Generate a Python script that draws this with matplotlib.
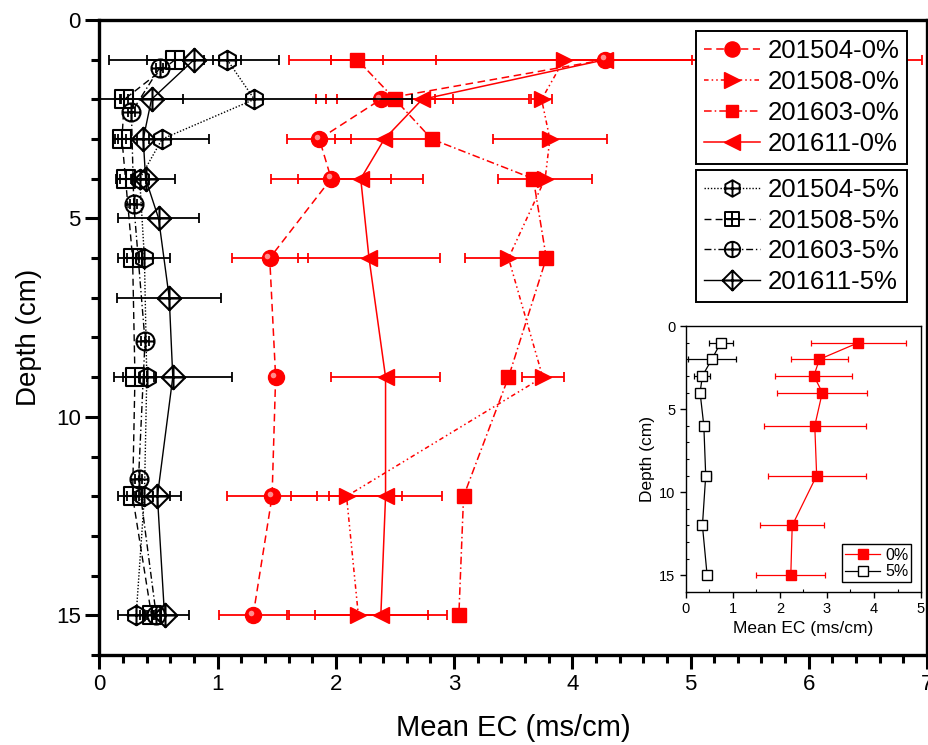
import matplotlib
matplotlib.use('Agg')
import matplotlib.pyplot as plt
from matplotlib.lines import Line2D
from matplotlib.path import Path
from matplotlib.ticker import MultipleLocator
from matplotlib.transforms import offset_copy
import numpy as np

plt.rcParams['font.family'] = ['Liberation Sans', 'DejaVu Sans']

# depths (cm) used by most series
depth = [1, 2, 3, 4, 6, 9, 12, 15]

# 0% treatment, mean EC and error (ms/cm)
ec_201504_0 = [4.28, 2.38, 1.86, 1.96, 1.44, 1.49, 1.46, 1.30]
err_201504_0 = [2.68, 0.46, 0.27, 0.51, 0.32, 0.03, 0.38, 0.29]
ec_201508_0 = [3.93, 3.74, 3.81, 3.77, 3.46, 3.75, 2.09, 2.19]
err_201508_0 = [1.08, 0.09, 0.48, 0.40, 0.37, 0.18, 0.47, 0.59]
ec_201603_0 = [2.18, 2.50, 2.81, 3.67, 3.78, 3.46, 3.08, 3.04]
err_201603_0 = [0.22, 0.49, 0.05, 0.05, 0.05, 0.05, 0.03, 0.03]
ec_201611_0 = [4.28, 2.73, 2.41, 2.21, 2.28, 2.42, 2.42, 2.38]
err_201611_0 = [2.32, 0.90, 0.42, 0.53, 0.60, 0.46, 0.48, 0.56]

# 5% treatment
ec_201504_5 = [1.08, 1.31, 0.53, 0.34, 0.38, 0.40, 0.38, 0.31]
err_201504_5 = [0.12, 1.33, 0.40, 0.05, 0.22, 0.06, 0.22, 0.15]
ec_201508_5 = [0.64, 0.21, 0.19, 0.22, 0.28, 0.30, 0.28, 0.44]
err_201508_5 = [0.24, 0.03, 0.03, 0.05, 0.05, 0.10, 0.05, 0.04]
depth_201603_5 = [1.2, 2.33, 4.64, 8.09, 11.57, 15]
ec_201603_5 = [0.51, 0.27, 0.29, 0.385, 0.33, 0.48]
err_201603_5 = [0.03, 0.03, 0.03, 0.03, 0.03, 0.03]
depth_201611_5 = [1, 2, 3, 4, 5, 7, 9, 12, 15]
ec_201611_5 = [0.80, 0.44, 0.37, 0.39, 0.50, 0.59, 0.62, 0.49, 0.55]
err_201611_5 = [0.72, 0.27, 0.05, 0.25, 0.34, 0.44, 0.50, 0.20, 0.21]

# inset: averages
ins_depth = [1, 2, 3, 4, 6, 9, 12, 15]
ins_0 = [3.67, 2.84, 2.72, 2.90, 2.74, 2.78, 2.26, 2.23]
ins_0_err = [1.02, 0.61, 0.82, 0.96, 1.08, 1.04, 0.68, 0.73]
ins_5 = [0.74, 0.55, 0.35, 0.30, 0.38, 0.42, 0.35, 0.45]
ins_5_err = [0.25, 0.51, 0.17, 0.03, 0.07, 0.11, 0.05, 0.07]


def crossed(outline):
    cross = Path([(-1, 0), (1, 0), (0, -1), (0, 1)],
                 [Path.MOVETO, Path.LINETO, Path.MOVETO, Path.LINETO])
    return Path.make_compound_path(outline, cross)


sq = Path([(-1, -1), (1, -1), (1, 1), (-1, 1), (-1, -1)],
          [Path.MOVETO, Path.LINETO, Path.LINETO, Path.LINETO, Path.CLOSEPOLY])
dia = Path([(0, 1), (1, 0), (0, -1), (-1, 0), (0, 1)],
           [Path.MOVETO, Path.LINETO, Path.LINETO, Path.LINETO, Path.CLOSEPOLY])
ang = np.deg2rad(np.arange(6) * 60 + 90)
hexv = list(zip(np.cos(ang), np.sin(ang))) + [(0, 1)]
hexa = Path(hexv, [Path.MOVETO] + [Path.LINETO] * 5 + [Path.CLOSEPOLY])

m_hex = crossed(hexa)
m_sq = crossed(sq)
m_circ = crossed(Path.unit_circle())
m_dia = crossed(dia)

ls_dash = (0, (5, 3))
ls_dashdotdot = (0, (3, 2, 1, 2, 1, 2))
ls_dashdot = (0, (5, 2, 1, 2))
ls_dot = (0, (1, 1.3))

red = [
    (ec_201504_0, depth, err_201504_0, 'o', 11.5, ls_dash, '201504-0%'),
    (ec_201508_0, depth, err_201508_0, '>', 12, ls_dashdotdot, '201508-0%'),
    (ec_201603_0, depth, err_201603_0, 's', 9.5, ls_dashdot, '201603-0%'),
    (ec_201611_0, depth, err_201611_0, '<', 12, '-', '201611-0%'),
]
black = [
    (ec_201504_5, depth, err_201504_5, m_hex, 14, ls_dot, '201504-5%'),
    (ec_201508_5, depth, err_201508_5, m_sq, 12.5, ls_dash, '201508-5%'),
    (ec_201603_5, depth_201603_5, err_201603_5, m_circ, 13, ls_dashdot, '201603-5%'),
    (ec_201611_5, depth_201611_5, err_201611_5, m_dia, 17, '-', '201611-5%'),
]

fig = plt.figure(figsize=(9.29, 7.45), dpi=100)
ax = fig.add_axes([0.1071, 0.1208, 0.8907, 0.8524])

h0 = []
for x, y, e, mk, ms, ls, lab in red:
    ax.errorbar(x, y, xerr=e, fmt='none', ecolor='red', elinewidth=1.3,
                capsize=3.4, capthick=1.3)
    ax.plot(x, y, color='red', ls=ls, lw=1.1, marker=mk, ms=ms,
            mfc='red', mec='red')
    h0.append(Line2D([0], [0], color='red', ls=ls, lw=1.1, marker=mk,
                     ms=ms * 0.95, mfc='red', mec='red'))

# little highlight to mimic the shaded spheres
hl = offset_copy(ax.transData, fig=fig, x=-2.5, y=2.5, units='dots')
ax.plot(ec_201504_0, depth, ls='none', marker='o', ms=4, mfc='#ffb0b0',
        mec='none', alpha=0.8, transform=hl)

h5 = []
for x, y, e, mk, ms, ls, lab in black:
    ax.errorbar(x, y, xerr=e, fmt='none', ecolor='black', elinewidth=1.3,
                capsize=3.4, capthick=1.3)
    ax.plot(x, y, color='black', ls=ls, lw=1.0, marker=mk, ms=ms,
            mfc='none', mec='black', mew=1.5)
    h5.append(Line2D([0], [0], color='black', ls=ls, lw=1.0, marker=mk,
                     ms=ms * 0.85, mfc='none', mec='black', mew=1.4))

ax.set_xlim(0, 7)
ax.set_ylim(16, 0)
ax.xaxis.set_major_locator(MultipleLocator(1))
ax.xaxis.set_minor_locator(MultipleLocator(0.2))
ax.yaxis.set_major_locator(MultipleLocator(5))
ax.yaxis.set_minor_locator(MultipleLocator(1))
ax.tick_params(which='major', length=10, width=2.2, labelsize=16)
ax.tick_params(which='minor', length=6, width=2.2)
for s in ax.spines.values():
    s.set_linewidth(2.4)
ax.set_xlabel('Mean EC (ms/cm)', fontsize=21, labelpad=14)
ax.set_ylabel('Depth (cm)', fontsize=20, labelpad=10)

leg_kw = dict(loc='upper left', bbox_transform=fig.transFigure, fontsize=18.5,
              frameon=True, fancybox=False, edgecolor='black', framealpha=1,
              handlelength=2.2, handletextpad=0.3, borderpad=0.3,
              labelspacing=0.27, borderaxespad=0)
leg1 = ax.legend(h0, [r[6] for r in red], bbox_to_anchor=(0.749, 0.958), **leg_kw)
leg1.get_frame().set_linewidth(1.4)
ax.add_artist(leg1)
leg2 = ax.legend(h5, [r[6] for r in black], bbox_to_anchor=(0.749, 0.772), **leg_kw)
leg2.get_frame().set_linewidth(1.4)

# inset
axi = fig.add_axes([0.7384, 0.2054, 0.253, 0.357])
axi.errorbar(ins_0, ins_depth, xerr=ins_0_err, fmt='none', ecolor='red',
             elinewidth=0.9, capsize=2, capthick=0.9)
axi.plot(ins_0, ins_depth, color='red', lw=0.9, marker='s', ms=6.5,
         mfc='red', mec='red', label='0%')
axi.errorbar(ins_5, ins_depth, xerr=ins_5_err, fmt='none', ecolor='black',
             elinewidth=0.9, capsize=2, capthick=0.9)
axi.plot(ins_5, ins_depth, color='black', lw=0.9, marker='s', ms=6.5,
         mfc='white', mec='black', label='5%')
axi.set_xlim(0, 5)
axi.set_ylim(16, 0)
axi.xaxis.set_major_locator(MultipleLocator(1))
axi.xaxis.set_minor_locator(MultipleLocator(0.5))
axi.yaxis.set_major_locator(MultipleLocator(5))
axi.yaxis.set_minor_locator(MultipleLocator(1))
axi.tick_params(which='major', length=4, width=1, labelsize=10.5, direction='out')
axi.tick_params(which='minor', length=2.5, width=0.8, direction='in')
for s in axi.spines.values():
    s.set_linewidth(1.0)
axi.set_xlabel('Mean EC (ms/cm)', fontsize=12.5, labelpad=3)
axi.set_ylabel('Depth (cm)', fontsize=12.5, labelpad=3)
li = axi.legend(loc='lower right', fontsize=11.5, frameon=True, fancybox=False,
                edgecolor='black', framealpha=1, handlelength=2.2,
                handletextpad=0.3, borderpad=0.2, labelspacing=0.1,
                borderaxespad=0.6)
li.get_frame().set_linewidth(1.0)

fig.savefig('out.png', dpi=100)
